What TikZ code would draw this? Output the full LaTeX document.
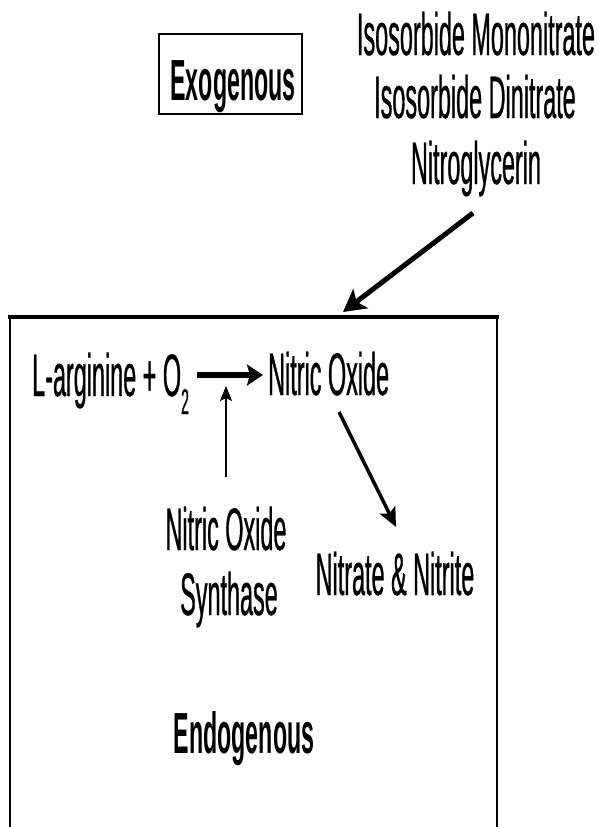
\documentclass[tikz,border=0pt]{standalone}
\usepackage{fontspec}
\setmainfont[FakeStretch=0.39, FakeBold=0.5]{Liberation Sans}
\newfontfamily\boldfam[FakeStretch=0.40]{Liberation Sans Bold}
\usetikzlibrary{arrows.meta}
\newcommand{\lowtwo}{\raisebox{-18pt}{\fontsize{36}{36}\selectfont 2}}
\begin{document}
\begin{tikzpicture}[x=1pt,y=-1pt,
  lbl/.style={inner sep=0pt, anchor=base, font=\fontsize{60}{64}\selectfont},
  boldlbl/.style={inner sep=0pt, anchor=base, font=\fontsize{58}{64}\boldfam},
  thickarr/.style={line width=5pt, -{Stealth[length=22pt,width=24pt,inset=5pt]}},
  reactarr/.style={line width=5.5pt, -{Stealth[length=16pt,width=21pt,inset=3pt]}},
  thinarr/.style={line width=2pt, -{Stealth[length=15pt,width=12pt,inset=3pt]}},
  midarr/.style={line width=3.5pt, -{Stealth[length=19pt,width=17pt,inset=4pt]}}]
\useasboundingbox (0,0) rectangle (598,827);

% exogenous box and label
\node[draw, line width=1.5pt, minimum width=143pt, minimum height=80pt, inner sep=0pt] (exobox) at (230.5,74) {};
\node[boldlbl] (exo) at (233,100) {Exogenous};

% drugs
\node[lbl] (drug1) at (476,55) {Isosorbide Mononitrate};
\node[lbl] (drug2) at (475,118) {Isosorbide Dinitrate};
\node[lbl] (drug3) at (476,184) {Nitroglycerin};

% endogenous box
\coordinate (boxtl) at (8,317);
\coordinate (boxtr) at (499,317);
\coordinate (boxbl) at (10,830);
\coordinate (boxbr) at (497,830);
\draw[line width=2pt] (boxbl) -- (10,317);
\draw[line width=2pt] (boxbr) -- (497,317);
\draw[line width=4pt] (boxtl) -- (boxtr);

% exogenous arrow
\coordinate (drugtail) at (473,213);
\coordinate (boxhit) at (343,312);
\draw[thickarr] (drugtail) -- (boxhit);

% reaction
\node[lbl, anchor=base west] (larg) at (32,396) {L-arginine + O\lowtwo};
\node[lbl, anchor=base west] (no) at (268,395) {Nitric Oxide};
\coordinate (hstart) at (197,375);
\coordinate (hend) at (263,375);
\draw[reactarr] (hstart) -- (hend);

% synthase
\node[lbl] (nos1) at (226,550) {Nitric Oxide};
\node[lbl] (nos2) at (229,615) {Synthase};
\coordinate (vstart) at (226,477);
\coordinate (vend) at (226,386);
\draw[thinarr] (vstart) -- (vend);

% nitrate & nitrite
\node[lbl] (nn) at (395,595) {Nitrate \& Nitrite};
\coordinate (dstart) at (339,412);
\coordinate (dend) at (396,527);
\draw[midarr] (dstart) -- (dend);

% endogenous label
\node[boldlbl] (endo) at (244,753) {Endogenous};
\end{tikzpicture}
\end{document}
